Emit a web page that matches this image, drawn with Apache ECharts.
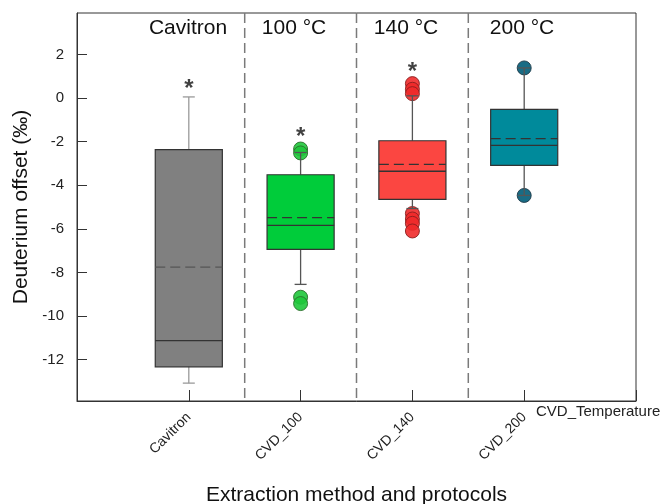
<!DOCTYPE html>
<html>
<head>
<meta charset="utf-8">
<script src="https://cdn.jsdelivr.net/npm/echarts@6/dist/echarts.min.js"></script>
<style>
html, body { margin: 0; padding: 0; background: #fff; }
#chart { width: 666px; height: 504px; }
</style>
</head>
<body>
<div id="chart"></div>
<script>
// groups on the x axis (positions 1..4)
var groups = ['Cavitron', 'CVD_100', 'CVD_140', 'CVD_200']
var headers = ['Cavitron', '100 °C', '140 °C', '200 °C']
// box statistics
var boxLow = [-13.08, -8.55, -5.07, -4.47]
var boxQ1 = [-12.33, -6.94, -4.65, -3.09]
var boxMedian = [-11.13, -5.84, -3.36, -2.17]
var boxQ3 = [-2.37, -3.52, -1.96, -0.52]
var boxHigh = [0.05, -2.5, 0.1, 1.38]
var boxMean = [-7.76, -5.49, -3.04, -1.86]
var outliers = [
  [],
  [-2.34, -2.52, -9.14, -9.43],
  [0.66, 0.4, 0.2, -5.3, -5.55, -5.75, -6.1],
  [1.38, -4.47]
]
var stars = [0.4, -1.79, 1.16, null]
var separators = [1.5, 2.5, 3.5]
var yTicks = [-12, -10, -8, -6, -4, -2, 0, 2]

var boxColors = ['#808080', '#00cc3a', '#fb4641', '#008a9b']
var dotColors = ['#808080', '#1fc83b', '#f02a2a', '#005c78']
var dotBorders = ['#444', '#2a6e2a', '#8a1e1e', '#1f3a48']
var font = 'Liberation Sans, Arial, sans-serif'

var boxData = groups.map(function (g, i) {
  return [i + 1, boxLow[i], boxQ1[i], boxMedian[i], boxQ3[i], boxHigh[i], boxMean[i]]
})
var dotData = []
outliers.forEach(function (list, i) {
  list.forEach(function (v) {
    dotData.push({
      value: [i + 1, v],
      itemStyle: { color: dotColors[i], borderColor: dotBorders[i], borderWidth: 1, opacity: 0.9 }
    })
  })
})
var starData = []
stars.forEach(function (v, i) {
  if (v !== null) starData.push([i + 1, v])
})

function renderBox(params, api) {
  var i = params.dataIndex
  var x = api.value(0)
  var low = api.coord([x, api.value(1)])
  var q1 = api.coord([x, api.value(2)])
  var med = api.coord([x, api.value(3)])
  var q3 = api.coord([x, api.value(4)])
  var high = api.coord([x, api.value(5)])
  var mean = api.coord([x, api.value(6)])
  var half = api.size([1, 0])[0] * 0.3
  var cap = 6
  var cx = low[0]
  var wColor = i === 0 ? '#9a9a9a' : '#555'
  var wStyle = { stroke: wColor, lineWidth: 1.3 }
  return {
    type: 'group',
    children: [
      { type: 'line', shape: { x1: cx, y1: high[1], x2: cx, y2: q3[1] }, style: wStyle },
      { type: 'line', shape: { x1: cx, y1: q1[1], x2: cx, y2: low[1] }, style: wStyle },
      { type: 'line', shape: { x1: cx - cap, y1: high[1], x2: cx + cap, y2: high[1] }, style: wStyle },
      { type: 'line', shape: { x1: cx - cap, y1: low[1], x2: cx + cap, y2: low[1] }, style: wStyle },
      {
        type: 'rect',
        shape: { x: cx - half, y: q3[1], width: half * 2, height: q1[1] - q3[1] },
        style: { fill: boxColors[i], stroke: '#333', lineWidth: 1.2 }
      },
      { type: 'line', shape: { x1: cx - half, y1: med[1], x2: cx + half, y2: med[1] }, style: { stroke: '#333', lineWidth: 1.3 } },
      {
        type: 'line',
        shape: { x1: cx - half, y1: mean[1], x2: cx + half, y2: mean[1] },
        style: { stroke: i === 0 ? '#555' : '#333', lineWidth: 1.3, lineDash: [10, 5] }
      }
    ]
  }
}

function renderSeparator(params, api) {
  var top = api.coord([api.value(0), 3.9])
  var bottom = api.coord([api.value(0), -13.9])
  return {
    type: 'line',
    shape: { x1: top[0], y1: top[1], x2: bottom[0], y2: bottom[1] },
    style: { stroke: '#7a7a7a', lineWidth: 1.5, lineDash: [10, 5] }
  }
}

function headerText(i, x) {
  return {
    type: 'text',
    x: x,
    y: 28,
    style: { text: headers[i], font: '21px ' + font, fill: '#111', align: 'center', verticalAlign: 'middle' }
  }
}

var chart = echarts.init(document.getElementById('chart'))
chart.setOption({
  animation: false,
  grid: {
    left: 77, right: 30, top: 13, bottom: 103,
    outerBoundsMode: 'none', containLabel: false,
    show: true, borderColor: '#333', borderWidth: 1
  },
  xAxis: {
    type: 'value',
    min: 0,
    max: 5,
    interval: 1,
    name: 'Extraction method and protocols',
    nameLocation: 'middle',
    nameGap: 84,
    nameTextStyle: { fontSize: 21, color: '#111', fontFamily: font },
    axisLine: { onZero: false, lineStyle: { color: '#333' } },
    axisTick: { inside: true, length: 11, lineStyle: { color: '#333' } },
    axisLabel: {
      rotate: 45,
      fontSize: 14,
      color: '#222',
      fontFamily: font,
      margin: 14,
      formatter: function (v) { return groups[v - 1] || '' }
    },
    splitLine: { show: false }
  },
  yAxis: {
    type: 'value',
    min: -13.9,
    max: 3.9,
    name: 'Deuterium offset (‰)',
    nameLocation: 'middle',
    nameGap: 45,
    nameTextStyle: { fontSize: 21, color: '#111', fontFamily: font },
    axisLine: { show: true, onZero: false, lineStyle: { color: '#333' } },
    axisTick: { inside: true, length: 10, customValues: yTicks, lineStyle: { color: '#333' } },
    axisLabel: { fontSize: 15, color: '#222', fontFamily: font, margin: 13, customValues: yTicks },
    splitLine: { show: false }
  },
  graphic: [
    headerText(0, 188),
    headerText(1, 294),
    headerText(2, 406),
    headerText(3, 522),
    { type: 'text', x: 536, y: 404, style: { text: 'CVD_Temperature', font: '15px ' + font, fill: '#222' } }
  ],
  series: [
    {
      type: 'custom',
      renderItem: renderSeparator,
      data: separators.map(function (s) { return [s] }),
      encode: { x: 0 },
      silent: true,
      z: 1
    },
    {
      type: 'scatter',
      symbol: 'circle',
      symbolSize: 14,
      data: dotData,
      z: 2
    },
    {
      type: 'custom',
      renderItem: renderBox,
      data: boxData,
      encode: { x: 0, y: [1, 2, 3, 4, 5] },
      z: 3
    },
    {
      type: 'scatter',
      symbolSize: 0,
      data: starData,
      label: { show: true, formatter: '*', position: 'inside', fontSize: 24, color: '#111', fontWeight: 'bold', fontFamily: font },
      z: 4
    }
  ]
})
</script>
</body>
</html>
